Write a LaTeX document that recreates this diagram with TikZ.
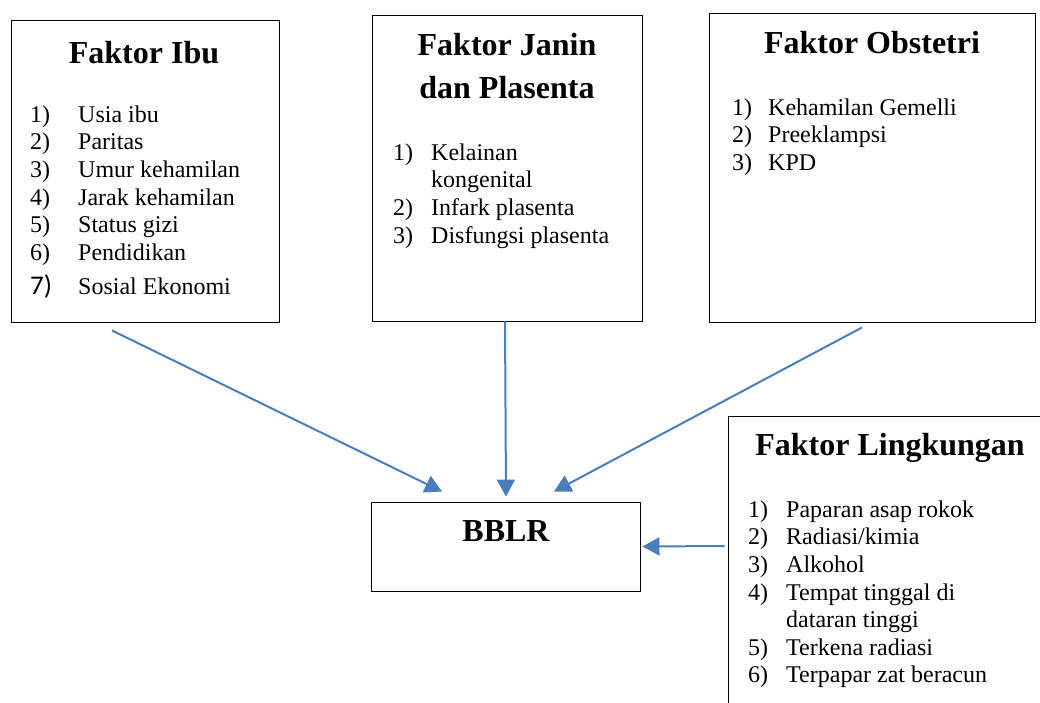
\documentclass[tikz,border=0pt]{standalone}
\usepackage{fontspec}
\setmainfont{Liberation Serif}
\newfontfamily\carlito{Carlito}
\usetikzlibrary{arrows.meta}
\definecolor{arrowblue}{RGB}{74,126,187}
\tikzset{
	box/.style={draw, line width=0.9pt, inner sep=0pt},
	title/.style={font=\fontsize{32}{43}\selectfont\bfseries, inner sep=0pt, anchor=base},
	items/.style={font=\fontsize{24}{27.6}\selectfont, inner sep=0pt, anchor=north west},
	arr/.style={-{Triangle[length=17pt,width=18pt]}, arrowblue, line width=2pt}
}

\begin{document}
\begin{tikzpicture}[x=1pt,y=-1pt]
		\useasboundingbox (0,0) rectangle (1040,702);
		\clip (0,0) rectangle (1040,702);
		\draw
		node[box,minimum width=268pt,minimum height=302pt] (ibu) at (145,171){}
		node[box,minimum width=270pt,minimum height=306pt] (janin) at (507,168){}
		node[box,minimum width=326pt,minimum height=309pt] (obstetri) at (872,167.5){}
		node[box,minimum width=330pt,minimum height=320pt] (lingkungan) at (893,576){}
		node[box,minimum width=269pt,minimum height=89pt] (bblr) at (505.5,546.5){};
		% judul
		\node[title] (ibu_title) at (144,63) {Faktor Ibu};
		\node[title,anchor=north] (janin_title) at (507,24.9) {\begin{tabular}{@{}c@{}}Faktor Janin\\dan Plasenta\end{tabular}};
		\node[title] (obstetri_title) at (872,53) {Faktor Obstetri};
		\node[title] (lingkungan_title) at (890,455) {Faktor Lingkungan};
		\node[title] (bblr_title) at (506,541) {BBLR};
		% daftar faktor
		\node[items] (ibu_list) at (30,102.7) {\begin{tabular}{@{}p{48pt}@{}l@{}}
			1)&Usia ibu\\
			2)&Paritas\\
			3)&Umur kehamilan\\
			4)&Jarak kehamilan\\
			5)&Status gizi\\
			6)&Pendidikan\\[6.4pt]
			{\carlito\fontsize{27}{27.6}\selectfont 7)}&Sosial Ekonomi
		\end{tabular}};
		\node[items] (janin_list) at (393,140.7) {\begin{tabular}{@{}p{38pt}@{}l@{}}
			1)&Kelainan\\
			&kongenital\\
			2)&Infark plasenta\\
			3)&Disfungsi plasenta
		\end{tabular}};
		\node[items] (obstetri_list) at (732,95.7) {\begin{tabular}{@{}p{36pt}@{}l@{}}
			1)&Kehamilan Gemelli\\
			2)&Preeklampsi\\
			3)&KPD
		\end{tabular}};
		\node[items] (lingkungan_list) at (748,497.7) {\begin{tabular}{@{}p{38pt}@{}l@{}}
			1)&Paparan asap rokok\\
			2)&Radiasi/kimia\\
			3)&Alkohol\\
			4)&Tempat tinggal di\\
			&dataran tinggi\\
			5)&Terkena radiasi\\
			6)&Terpapar zat beracun
		\end{tabular}};
		% panah ke BBLR
		\draw [arr] ([xshift=-33pt,yshift=-8pt]ibu.south) -- ([xshift=-63.5pt,yshift=10pt]bblr.north);
		\draw [arr] ([xshift=-2pt]janin.south) -- ([xshift=0.5pt,yshift=5pt]bblr.north);
		\draw [arr] ([xshift=-10pt,yshift=-5pt]obstetri.south) -- ([xshift=48.5pt,yshift=10pt]bblr.north);
		\draw [arr] ([xshift=-3pt,yshift=30pt]lingkungan.west) -- ([xshift=2pt]bblr.east);
\end{tikzpicture}
\end{document}
